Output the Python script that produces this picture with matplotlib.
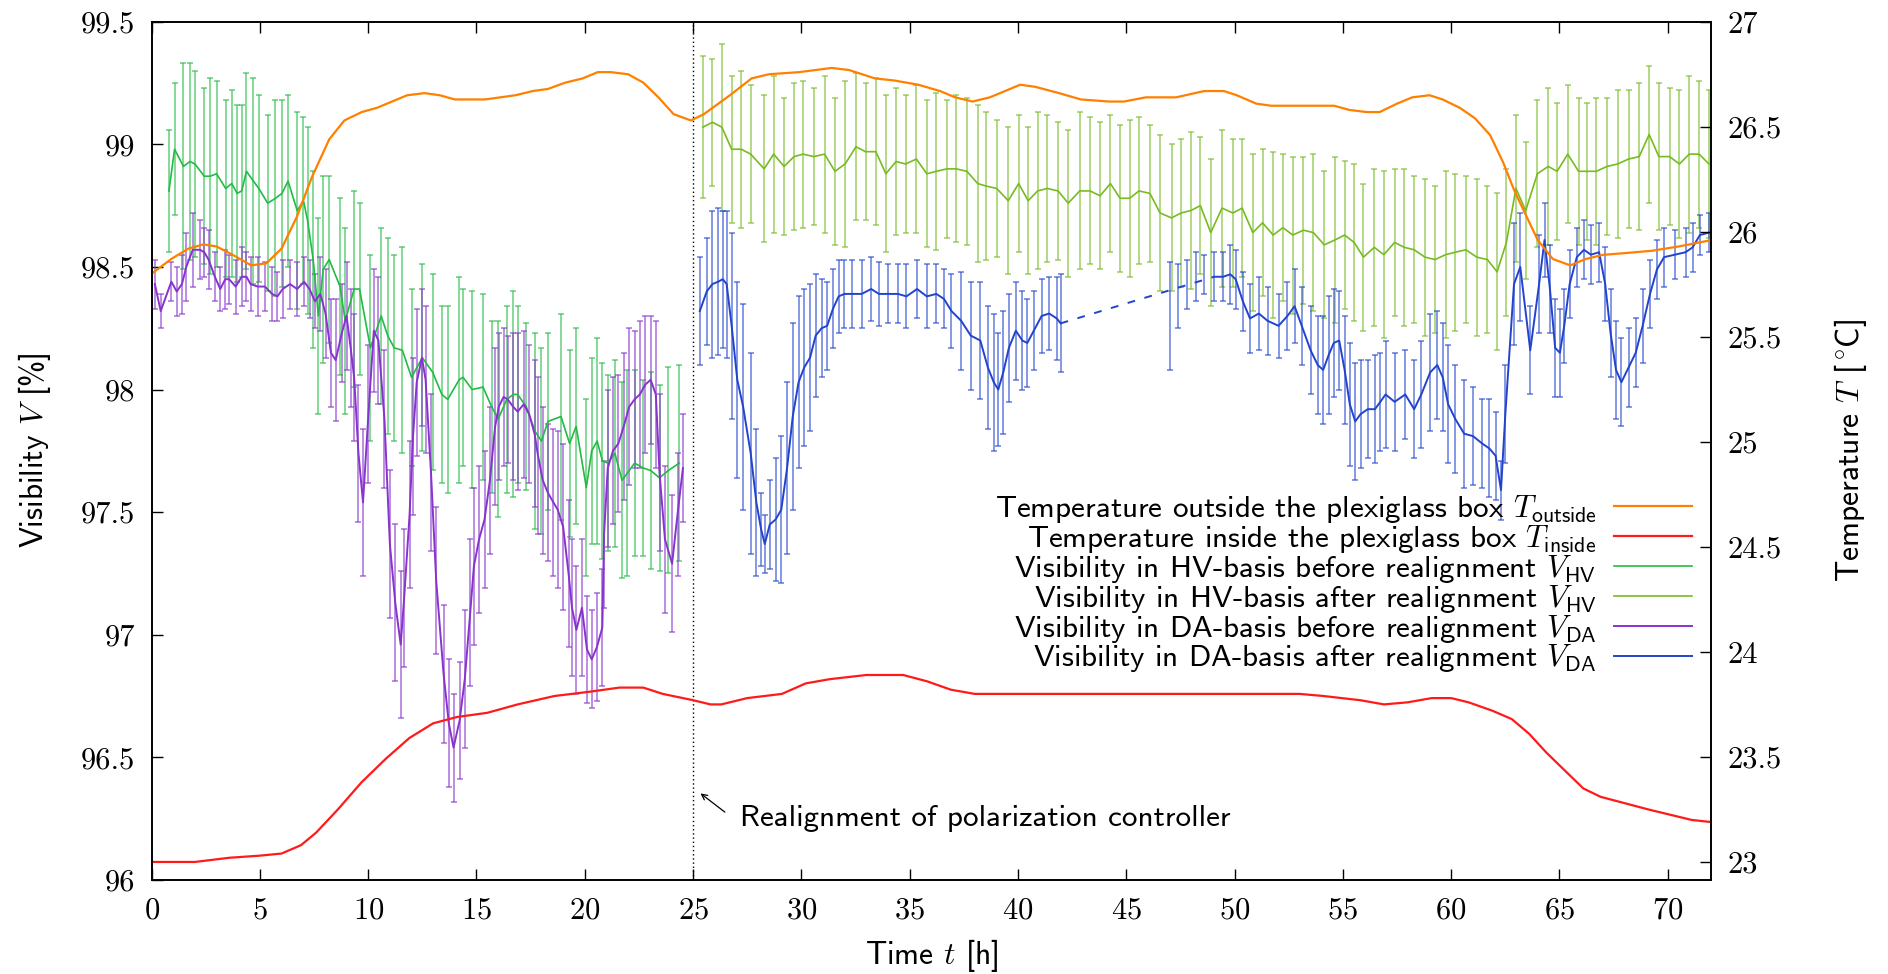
import matplotlib
matplotlib.use("Agg")
import matplotlib.pyplot as plt
from matplotlib.ticker import MultipleLocator, FormatStrFormatter

plt.rcParams['font.family'] = 'cmss10'
plt.rcParams['mathtext.fontset'] = 'cm'
plt.rcParams['axes.unicode_minus'] = False
plt.rcParams['axes.formatter.use_mathtext'] = True

# temperature outside the box (right axis)
t_out = [0, 0.9, 1.7, 2.4, 3.0, 3.75, 4.6, 5.3, 6.0, 6.7,
         7.4, 8.2, 8.9, 9.7, 10.4, 11.1, 11.8, 12.6, 13.3, 14.0,
         14.7, 15.4, 16.1, 16.8, 17.6, 18.3, 19.1, 19.9, 20.6, 21.2,
         22.0, 22.7, 23.4, 24.1, 24.9, 25.5, 26.7, 27.7, 28.5, 29.9,
         31.4, 32.2, 33.4, 34.3, 35.4, 36.4, 37.1, 37.9, 38.7, 39.4,
         40.1, 40.8, 41.9, 42.9, 44.2, 44.9, 45.9, 47.3, 48.6, 49.5,
         50.1, 51.0, 51.7, 52.4, 53.4, 54.6, 55.3, 56.1, 56.7, 57.5,
         58.2, 59.0, 59.6, 60.4, 61.1, 61.8, 62.4, 62.9, 63.4, 64.0,
         64.7, 65.5, 66.2, 67.0, 68.2, 69.3, 70.5, 72.0]
T_out = [25.80, 25.87, 25.92, 25.94, 25.93, 25.89, 25.84, 25.85, 25.92, 26.07,
         26.26, 26.44, 26.53, 26.57, 26.59, 26.62, 26.65, 26.66, 26.65, 26.63,
         26.63, 26.63, 26.64, 26.65, 26.67, 26.68, 26.71, 26.73, 26.76, 26.76,
         26.75, 26.71, 26.64, 26.56, 26.53, 26.56, 26.65, 26.73, 26.75, 26.76,
         26.78, 26.77, 26.73, 26.72, 26.70, 26.67, 26.64, 26.62, 26.64, 26.67,
         26.70, 26.69, 26.66, 26.63, 26.62, 26.62, 26.64, 26.64, 26.67, 26.67,
         26.65, 26.61, 26.60, 26.60, 26.60, 26.60, 26.58, 26.57, 26.57, 26.61,
         26.64, 26.65, 26.63, 26.59, 26.54, 26.46, 26.33, 26.20, 26.09, 25.96,
         25.87, 25.84, 25.87, 25.89, 25.90, 25.91, 25.93, 25.96]

# temperature inside the box (right axis)
t_in = [0, 2.0, 3.6, 5.0, 6.0, 6.9, 7.6, 8.6, 9.7, 10.8,
        11.9, 13.0, 14.1, 15.5, 16.9, 18.6, 20.2, 21.6, 22.7, 23.6,
        25.0, 25.8, 26.3, 27.5, 29.1, 30.2, 31.3, 33.0, 34.7, 35.8,
        36.9, 38.0, 39.7, 45.0, 50.0, 53.0, 54.1, 55.8, 56.9, 58.0,
        59.1, 60.0, 60.8, 61.9, 62.8, 63.6, 64.4, 65.3, 66.1, 66.9,
        68.0, 69.1, 70.3, 71.1, 72.0]
T_in = [23.00, 23.00, 23.02, 23.03, 23.04, 23.08, 23.14, 23.25, 23.38, 23.49,
        23.59, 23.66, 23.69, 23.71, 23.75, 23.79, 23.81, 23.83, 23.83, 23.80,
        23.77, 23.75, 23.75, 23.78, 23.80, 23.85, 23.87, 23.89, 23.89, 23.86,
        23.82, 23.80, 23.80, 23.80, 23.80, 23.80, 23.79, 23.77, 23.75, 23.76,
        23.78, 23.78, 23.76, 23.72, 23.68, 23.61, 23.52, 23.43, 23.35, 23.31,
        23.28, 23.25, 23.22, 23.20, 23.19]

# visibility HV basis, before realignment
t_hv1 = [0.8, 1.06, 1.47, 1.77, 2.0, 2.43, 2.7, 3.0, 3.42, 3.7,
         3.95, 4.16, 4.38, 4.7, 4.95, 5.36, 5.72, 6.02, 6.3, 6.72,
         7.01, 7.2, 7.46, 7.7, 7.92, 8.2, 8.7, 8.94, 9.35, 9.6,
         10.1, 10.6, 10.9, 11.2, 11.58, 12.0, 12.5, 12.98, 13.4, 13.67,
         14.2, 14.38, 14.8, 15.3, 15.7, 16.0, 16.4, 16.7, 16.9, 17.3,
         17.7, 18.0, 18.3, 18.9, 19.3, 19.6, 20.07, 20.32, 20.57, 20.81,
         21.06, 21.39, 21.72, 21.97, 22.3, 22.7, 23.04, 23.45, 23.86, 24.36]
V_hv1 = [98.81, 98.98, 98.91, 98.93, 98.92, 98.87, 98.87, 98.88, 98.82, 98.84,
         98.80, 98.81, 98.89, 98.85, 98.82, 98.76, 98.78, 98.80, 98.85, 98.73,
         98.77, 98.69, 98.53, 98.30, 98.49, 98.53, 98.42, 98.28, 98.41, 98.41,
         98.17, 98.30, 98.22, 98.17, 98.16, 98.05, 98.13, 98.07, 97.98, 97.96,
         98.04, 98.05, 98.00, 98.01, 97.93, 97.88, 97.96, 97.98, 97.98, 97.93,
         97.83, 97.79, 97.87, 97.89, 97.78, 97.85, 97.60, 97.75, 97.79, 97.71,
         97.70, 97.74, 97.63, 97.66, 97.70, 97.68, 97.67, 97.64, 97.67, 97.70]
e_hv1 = [0.25, 0.27, 0.42, 0.40, 0.38, 0.36, 0.40, 0.38, 0.36, 0.38,
         0.36, 0.35, 0.40, 0.42, 0.38, 0.36, 0.40, 0.38, 0.35, 0.40,
         0.34, 0.38, 0.36, 0.40, 0.38, 0.34, 0.36, 0.38, 0.40, 0.35,
         0.38, 0.36, 0.40, 0.38, 0.42, 0.36, 0.38, 0.40, 0.36, 0.38,
         0.42, 0.36, 0.40, 0.38, 0.35, 0.40, 0.38, 0.42, 0.36, 0.34,
         0.40, 0.38, 0.36, 0.42, 0.38, 0.40, 0.36, 0.38, 0.42, 0.40,
         0.36, 0.38, 0.40, 0.42, 0.38, 0.36, 0.40, 0.38, 0.42, 0.40]

# visibility HV basis, after realignment
t_hv2 = [25.45, 25.89, 26.33, 26.78, 27.22, 27.66, 28.28, 28.72, 29.2, 29.66,
         30.08, 30.57, 31.07, 31.55, 32.02, 32.52, 32.96, 33.44, 33.9, 34.37,
         34.81, 35.31, 35.79, 36.23, 36.72, 37.15, 37.64, 38.14, 38.52, 39.02,
         39.55, 40.03, 40.47, 40.91, 41.35, 41.85, 42.32, 42.85, 43.33, 43.79,
         44.27, 44.71, 45.15, 45.59, 46.09, 46.56, 47.09, 47.53, 47.98, 48.42,
         48.9, 49.42, 49.92, 50.35, 50.84, 51.29, 51.78, 52.23, 52.69, 53.18,
         53.64, 54.14, 54.63, 55.08, 55.52, 55.95, 56.45, 56.89, 57.39, 57.83,
         58.29, 58.79, 59.25, 59.74, 60.19, 60.68, 61.18, 61.67, 62.12, 62.55,
         62.99, 63.44, 63.98, 64.48, 64.89, 65.38, 65.88, 66.29, 66.7, 67.2,
         67.69, 68.19, 68.68, 69.14, 69.59, 70.08, 70.54, 70.99, 71.45, 71.9]
V_hv2 = [99.07, 99.09, 99.07, 98.98, 98.98, 98.96, 98.90, 98.96, 98.91, 98.95,
         98.96, 98.95, 98.96, 98.89, 98.92, 98.99, 98.97, 98.97, 98.88, 98.93,
         98.92, 98.94, 98.88, 98.89, 98.90, 98.90, 98.89, 98.84, 98.83, 98.82,
         98.77, 98.84, 98.77, 98.81, 98.82, 98.81, 98.76, 98.81, 98.81, 98.79,
         98.84, 98.78, 98.78, 98.81, 98.80, 98.72, 98.70, 98.72, 98.73, 98.75,
         98.64, 98.74, 98.72, 98.74, 98.64, 98.68, 98.63, 98.66, 98.63, 98.65,
         98.64, 98.59, 98.61, 98.63, 98.60, 98.54, 98.58, 98.55, 98.60, 98.58,
         98.57, 98.54, 98.53, 98.55, 98.56, 98.57, 98.54, 98.53, 98.48, 98.60,
         98.82, 98.73, 98.88, 98.91, 98.89, 98.96, 98.89, 98.89, 98.89, 98.91,
         98.92, 98.94, 98.95, 99.04, 98.95, 98.95, 98.92, 98.96, 98.96, 98.92]
e_hv2 = [0.29, 0.26, 0.34, 0.30, 0.32, 0.28, 0.30, 0.32, 0.28, 0.30,
         0.30, 0.28, 0.32, 0.30, 0.34, 0.30, 0.28, 0.30, 0.32, 0.30,
         0.28, 0.30, 0.30, 0.32, 0.28, 0.30, 0.30, 0.32, 0.30, 0.28,
         0.30, 0.28, 0.30, 0.32, 0.30, 0.28, 0.30, 0.32, 0.30, 0.30,
         0.28, 0.30, 0.32, 0.30, 0.28, 0.32, 0.30, 0.30, 0.32, 0.28,
         0.30, 0.32, 0.30, 0.28, 0.32, 0.30, 0.34, 0.30, 0.32, 0.30,
         0.32, 0.30, 0.34, 0.30, 0.32, 0.30, 0.32, 0.34, 0.30, 0.32,
         0.30, 0.32, 0.30, 0.34, 0.32, 0.30, 0.32, 0.30, 0.32, 0.30,
         0.30, 0.28, 0.30, 0.32, 0.28, 0.28, 0.30, 0.28, 0.30, 0.28,
         0.30, 0.28, 0.30, 0.28, 0.30, 0.28, 0.30, 0.32, 0.30, 0.30]

# visibility DA basis, before realignment
t_da1 = [0.15, 0.42, 0.91, 1.16, 1.4, 1.6, 1.9, 2.23, 2.43, 2.63,
         2.92, 3.17, 3.4, 3.58, 3.88, 4.16, 4.38, 4.57, 4.9, 5.23,
         5.56, 5.81, 6.05, 6.39, 6.72, 7.04, 7.29, 7.54, 7.79, 8.03,
         8.28, 8.5, 8.78, 9.0, 9.19, 9.35, 9.55, 9.76, 10.01, 10.26,
         10.47, 10.75, 11.0, 11.25, 11.5, 11.66, 11.91, 12.07, 12.24, 12.48,
         12.65, 12.9, 13.14, 13.48, 13.72, 13.94, 14.22, 14.46, 14.71, 14.88,
         15.12, 15.37, 15.62, 15.86, 16.03, 16.25, 16.44, 16.69, 16.9, 17.18,
         17.43, 17.68, 17.84, 18.06, 18.29, 18.55, 18.75, 19.0, 19.25, 19.41,
         19.61, 19.87, 20.1, 20.32, 20.56, 20.81, 20.89, 21.06, 21.3, 21.55,
         21.8, 22.05, 22.3, 22.54, 22.79, 23.04, 23.28, 23.45, 23.7, 24.03,
         24.28, 24.53]
V_da1 = [98.43, 98.32, 98.44, 98.40, 98.43, 98.50, 98.57, 98.57, 98.56, 98.53,
         98.46, 98.41, 98.45, 98.45, 98.42, 98.46, 98.46, 98.43, 98.42, 98.42,
         98.39, 98.38, 98.41, 98.43, 98.41, 98.44, 98.41, 98.36, 98.39, 98.31,
         98.15, 98.12, 98.23, 98.30, 98.17, 98.05, 97.74, 97.54, 97.90, 98.24,
         98.20, 97.88, 97.37, 97.13, 96.96, 97.15, 97.49, 97.81, 98.03, 98.13,
         98.04, 97.66, 97.22, 96.84, 96.64, 96.54, 96.65, 96.82, 97.09, 97.28,
         97.39, 97.47, 97.63, 97.85, 97.93, 97.97, 97.96, 97.93, 97.91, 97.94,
         97.90, 97.82, 97.73, 97.63, 97.58, 97.54, 97.51, 97.44, 97.25, 97.11,
         97.02, 97.11, 96.94, 96.90, 96.95, 97.03, 97.41, 97.68, 97.75, 97.78,
         97.85, 97.93, 97.96, 97.98, 98.02, 98.04, 97.98, 97.66, 97.39, 97.29,
         97.49, 97.68]
e_da1 = [0.10, 0.07, 0.08, 0.10, 0.12, 0.14, 0.15, 0.12, 0.10, 0.12,
         0.10, 0.09, 0.12, 0.10, 0.11, 0.12, 0.10, 0.11, 0.12, 0.10,
         0.11, 0.10, 0.12, 0.10, 0.11, 0.10, 0.12, 0.11, 0.15, 0.18,
         0.22, 0.25, 0.20, 0.22, 0.24, 0.26, 0.28, 0.30, 0.28, 0.25,
         0.26, 0.28, 0.30, 0.32, 0.30, 0.28, 0.30, 0.32, 0.30, 0.28,
         0.30, 0.32, 0.30, 0.28, 0.26, 0.22, 0.24, 0.28, 0.30, 0.32,
         0.30, 0.28, 0.30, 0.32, 0.30, 0.28, 0.26, 0.30, 0.32, 0.30,
         0.28, 0.30, 0.32, 0.30, 0.28, 0.30, 0.32, 0.34, 0.30, 0.28,
         0.26, 0.28, 0.22, 0.20, 0.22, 0.24, 0.30, 0.32, 0.30, 0.28,
         0.30, 0.32, 0.28, 0.30, 0.28, 0.26, 0.30, 0.32, 0.30, 0.28,
         0.25, 0.22]

# visibility DA basis, after realignment (two runs, gap 42-47 h)
t_da2a = [25.31, 25.63, 25.89, 26.16, 26.37, 26.55, 26.78, 27.04, 27.31, 27.66,
          27.92, 28.14, 28.31, 28.54, 28.81, 29.07, 29.34, 29.6, 29.87, 30.13,
          30.4, 30.66, 30.93, 31.19, 31.46, 31.72, 31.99, 32.34, 32.78, 33.22,
          33.58, 34.02, 34.46, 34.85, 35.34, 35.79, 36.23, 36.58, 36.93, 37.38,
          37.82, 38.26, 38.61, 38.88, 39.09, 39.32, 39.58, 39.9, 40.2, 40.43,
          40.73, 41.09, 41.44, 41.79, 41.97]
V_da2a = [98.32, 98.40, 98.43, 98.44, 98.45, 98.43, 98.26, 98.04, 97.93, 97.74,
          97.54, 97.43, 97.37, 97.45, 97.47, 97.51, 97.68, 97.89, 98.03, 98.09,
          98.13, 98.22, 98.25, 98.26, 98.33, 98.38, 98.39, 98.39, 98.39, 98.41,
          98.39, 98.39, 98.39, 98.38, 98.41, 98.38, 98.39, 98.37, 98.32, 98.28,
          98.22, 98.20, 98.09, 98.03, 98.00, 98.07, 98.17, 98.24, 98.20, 98.19,
          98.24, 98.30, 98.31, 98.29, 98.27]
e_da2a = [0.22, 0.22, 0.30, 0.30, 0.28, 0.30, 0.38, 0.40, 0.42, 0.41,
          0.30, 0.15, 0.12, 0.18, 0.25, 0.30, 0.35, 0.38, 0.35, 0.32,
          0.30, 0.25, 0.20, 0.18, 0.16, 0.15, 0.14, 0.14, 0.14, 0.13,
          0.13, 0.12, 0.12, 0.13, 0.12, 0.13, 0.12, 0.12, 0.15, 0.20,
          0.22, 0.24, 0.25, 0.28, 0.23, 0.25, 0.22, 0.20, 0.20, 0.18,
          0.16, 0.15, 0.15, 0.17, 0.20]

t_da2b = [47.0, 47.4, 47.8, 48.2, 48.6, 49.06, 49.47, 49.8, 50.05, 50.38,
          50.71, 51.12, 51.53, 52.03, 52.44, 52.77, 53.1, 53.51, 53.84, 54.09,
          54.34, 54.58, 54.83, 55.08, 55.32, 55.57, 55.82, 56.15, 56.48, 56.73,
          56.97, 57.39, 57.88, 58.29, 58.62, 59.03, 59.36, 59.61, 59.86, 60.19,
          60.6, 61.01, 61.43, 61.76, 62.05, 62.3, 62.5, 62.9, 63.19, 63.65,
          64.06, 64.31, 64.56, 64.8, 65.02, 65.22, 65.47, 65.8, 66.13, 66.45,
          66.83, 67.11, 67.36, 67.61, 67.86, 68.19, 68.52, 68.84, 69.18, 69.5,
          69.83, 70.33, 70.82, 71.15, 71.48, 71.9]
V_da2b = [98.30, 98.38, 98.43, 98.46, 98.47, 98.46, 98.46, 98.47, 98.45, 98.36,
          98.29, 98.31, 98.28, 98.26, 98.30, 98.34, 98.26, 98.16, 98.10, 98.08,
          98.14, 98.19, 98.20, 98.08, 97.94, 97.87, 97.90, 97.92, 97.92, 97.95,
          97.98, 97.95, 97.98, 97.92, 97.98, 98.07, 98.10, 98.05, 97.94, 97.88,
          97.82, 97.81, 97.78, 97.76, 97.73, 97.59, 97.90, 98.43, 98.50, 98.16,
          98.43, 98.61, 98.41, 98.17, 98.15, 98.26, 98.43, 98.54, 98.57, 98.55,
          98.56, 98.43, 98.23, 98.08, 98.03, 98.09, 98.15, 98.26, 98.39, 98.49,
          98.54, 98.55, 98.56, 98.58, 98.63, 98.64]
e_da2b = [0.22, 0.13, 0.10, 0.10, 0.08, 0.10, 0.10, 0.12, 0.12, 0.12,
          0.14, 0.15, 0.14, 0.13, 0.14, 0.15, 0.16, 0.18, 0.20, 0.22,
          0.24, 0.22, 0.20, 0.22, 0.25, 0.24, 0.22, 0.20, 0.22, 0.20,
          0.22, 0.20, 0.18, 0.20, 0.22, 0.24, 0.22, 0.22, 0.24, 0.22,
          0.22, 0.20, 0.18, 0.20, 0.18, 0.12, 0.20, 0.25, 0.22, 0.18,
          0.20, 0.15, 0.18, 0.20, 0.18, 0.15, 0.14, 0.12, 0.12, 0.12,
          0.12, 0.15, 0.18, 0.20, 0.18, 0.16, 0.14, 0.15, 0.14, 0.12,
          0.12, 0.10, 0.10, 0.10, 0.08, 0.08]

c_out = '#ff8000'
c_in = '#ff1a1a'
c_hv1 = '#22bb44'
c_hv2 = '#77bb22'
c_da1 = '#8833cc'
c_da2 = '#2244cc'

fig = plt.figure(figsize=(18.88, 9.74), dpi=100)
fig.subplots_adjust(left=0.0803, right=0.9063, top=0.9777, bottom=0.0965)
ax = fig.add_subplot(111)
ax2 = ax.twinx()

def errs(ax, t, v, e, col):
    ax.errorbar(t, v, yerr=e, fmt='none', ecolor=col, elinewidth=1.1,
                capsize=2.2, capthick=1.1, alpha=0.7, zorder=2)

errs(ax, t_hv1, V_hv1, e_hv1, c_hv1)
errs(ax, t_hv2, V_hv2, e_hv2, c_hv2)
errs(ax, t_da1, V_da1, e_da1, c_da1)
errs(ax, t_da2a, V_da2a, e_da2a, c_da2)
errs(ax, t_da2b, V_da2b, e_da2b, c_da2)

l3, = ax.plot(t_hv1, V_hv1, color=c_hv1, lw=1.2, zorder=3)
l4, = ax.plot(t_hv2, V_hv2, color=c_hv2, lw=1.2, zorder=3)
l5, = ax.plot(t_da1, V_da1, color=c_da1, lw=1.4, zorder=3)
l6, = ax.plot(t_da2a, V_da2a, color=c_da2, lw=1.4, zorder=3)
ax.plot(t_da2b[5:], V_da2b[5:], color=c_da2, lw=1.4, zorder=3)
# dashed bridge over the gap in the DA data
ax.plot([t_da2a[-1], t_da2b[5]], [V_da2a[-1], V_da2b[5]],
        color=c_da2, lw=1.4, ls=(0, (4, 5)), zorder=3)

l1, = ax2.plot(t_out, T_out, color=c_out, lw=1.6)
l2, = ax2.plot(t_in, T_in, color=c_in, lw=1.6)

ax.axvline(25, color='black', lw=1.0, ls=(0, (1, 2)))
ax.annotate('', xy=(25.24, 96.36), xytext=(26.57, 96.27),
            arrowprops=dict(arrowstyle='->', color='black', lw=0.9))
ax.text(27.18, 96.25, 'Realignment of polarization controller',
        fontsize=22.4, va='center', ha='left')

ax.set_xlim(0, 72)
ax.set_ylim(96, 99.5)
ax2.set_ylim(22.914, 27.0)
ax.xaxis.set_major_locator(MultipleLocator(5))
ax.yaxis.set_major_locator(MultipleLocator(0.5))
ax2.yaxis.set_major_locator(MultipleLocator(0.5))
ax.yaxis.set_major_formatter(FormatStrFormatter('%g'))
ax2.yaxis.set_major_formatter(FormatStrFormatter('%g'))

ax.tick_params(axis='both', direction='in', length=8, width=1, top=True,
               right=False, labelsize=22, pad=12)
ax2.tick_params(axis='y', direction='in', length=8, width=1, labelsize=22, pad=12)
for lab in ax.get_xticklabels() + ax.get_yticklabels() + ax2.get_yticklabels():
    lab.set_fontfamily('cmr10')

for a in (ax, ax2):
    for s in a.spines.values():
        s.set_linewidth(1.2)

ax.set_xlabel(r'Time $t$ [h]', fontsize=22.7, labelpad=9)
ax.set_ylabel(r'Visibility $V$ [%]', fontsize=22.7, labelpad=20)
ax2.set_ylabel(r'Temperature $T$ [$^\circ\!$C]', fontsize=22.7, labelpad=36,
               rotation=90)

handles = [l1, l2, l3, l4, l5, l6]
labels = [r'Temperature outside the plexiglass box $T_\mathsf{outside}$',
          r'Temperature inside the plexiglass box $T_\mathsf{inside}$',
          r'Visibility in HV-basis before realignment $V_\mathsf{HV}$',
          r'Visibility in HV-basis after realignment $V_\mathsf{HV}$',
          r'Visibility in DA-basis before realignment $V_\mathsf{DA}$',
          r'Visibility in DA-basis after realignment $V_\mathsf{DA}$']
ax2.legend(handles, labels, loc='center right', bbox_to_anchor=(0.988, 0.345),
           frameon=False, markerfirst=False, alignment='right', fontsize=22.4,
           handlelength=2.53, handletextpad=0.55, labelspacing=-0.07,
           borderpad=0, borderaxespad=0)

fig.savefig('out.png', dpi=100)
